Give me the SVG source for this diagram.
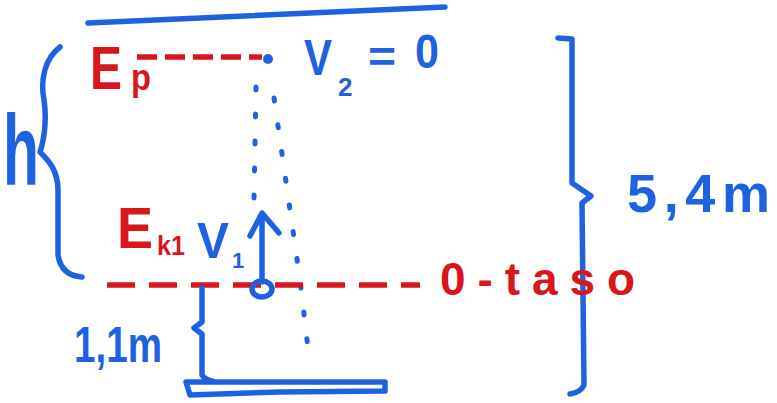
<svg xmlns="http://www.w3.org/2000/svg" width="777" height="403" viewBox="0 0 777 403">
<style>
.b{stroke:#1F62E0;fill:none;stroke-width:5.5;stroke-linecap:round;stroke-linejoin:round}
.r{stroke:#D9161E;fill:none;stroke-width:5.5;stroke-linecap:butt}
.dot{stroke:#1F62E0;fill:none;stroke-width:5;stroke-linecap:round;stroke-dasharray:3 24}
.tb{fill:#1F62E0;font-family:"Liberation Sans",Arial,sans-serif;font-weight:bold}
.tr{fill:#D9161E;font-family:"Liberation Sans",Arial,sans-serif;font-weight:bold}
</style>
<rect width="777" height="403" fill="#fff"/>
<!-- top line -->
<path class="b" d="M88 23 L445 7"/>
<!-- upper red dashed -->
<path class="r" d="M137 57 L262 57" stroke-dasharray="20 8"/>
<circle cx="268" cy="59" r="5" fill="#1F62E0"/>
<!-- dotted trajectories -->
<path class="dot" d="M256 87 L254 200"/>
<path class="dot" d="M274 98 L300 280 L310 365"/>
<!-- lower red dashed (0-level) -->
<path class="r" d="M107 285 L420 285" stroke-dasharray="28 14"/>
<!-- launch arrow and ball -->
<path class="b" d="M262 282 L262 214 M250 236 L262 213 L279 233"/>
<ellipse class="b" cx="262" cy="289" rx="10" ry="8"/>
<!-- h brace -->
<path class="b" d="M60 47 C45 58 40 80 44 100 C47 120 44 140 40 152 C48 160 58 170 58 190 L58 255 C60 268 68 276 82 277"/>
<!-- 1,1m brace -->
<path class="b" d="M202 288 L202 322 L194 328 L202 334 L202 375 C204 379 208 380 212 381"/>
<!-- 5,4m brace -->
<path class="b" d="M558 38 L572 39 L572 183 L591 196 L582 203 L584 385 C582 390 576 393 570 394"/>
<!-- ground -->
<path class="b" d="M186 382 L385 382 L385 391 L280 392 L190 395 Z"/>
<!-- texts -->
<text class="tr" x="90" y="89" font-size="62" textLength="32" lengthAdjust="spacingAndGlyphs">E</text>
<text class="tr" x="131" y="90" font-size="36" textLength="20" lengthAdjust="spacingAndGlyphs">p</text>
<text class="tb" x="304" y="75" font-size="50" textLength="28" lengthAdjust="spacingAndGlyphs">V</text>
<text class="tb" x="338" y="96" font-size="26">2</text>
<text class="tb" x="368" y="72" font-size="44" textLength="28" lengthAdjust="spacingAndGlyphs">=</text>
<text class="tb" x="415" y="68" font-size="48" textLength="24" lengthAdjust="spacingAndGlyphs">0</text>
<text class="tr" x="117" y="248" font-size="58" textLength="36" lengthAdjust="spacingAndGlyphs">E</text>
<text class="tr" x="157" y="255" font-size="28" textLength="28" lengthAdjust="spacingAndGlyphs">k1</text>
<text class="tb" x="197" y="258" font-size="50" textLength="32" lengthAdjust="spacingAndGlyphs">V</text>
<text class="tb" x="232" y="268" font-size="22">1</text>
<text class="tr" x="440" y="295" font-size="46" textLength="195" lengthAdjust="spacing">0-taso</text>
<text class="tb" x="3" y="185" font-size="100" textLength="36" lengthAdjust="spacingAndGlyphs">h</text>
<text class="tb" x="627" y="212" font-size="54" textLength="143" lengthAdjust="spacing">5,4m</text>
<text class="tb" x="74" y="362" font-size="50" textLength="88" lengthAdjust="spacingAndGlyphs">1,1m</text>
</svg>
